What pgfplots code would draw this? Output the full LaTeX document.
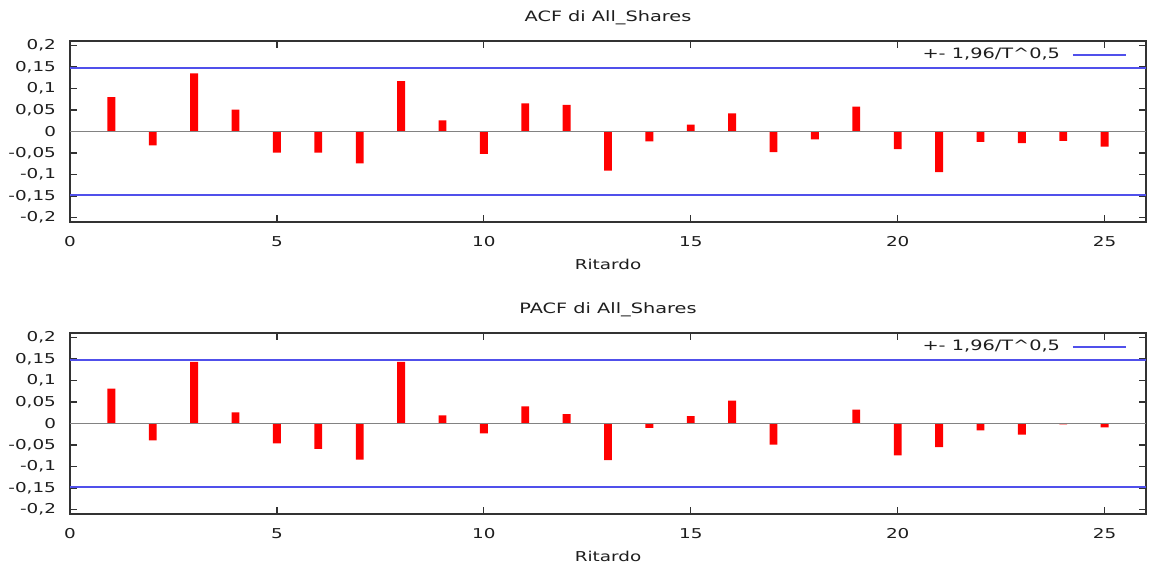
\documentclass[border=0pt]{standalone}
\usepackage{pgfplots}
\usepackage{pgfplotstable}
\pgfplotsset{compat=1.18}
\usepackage{fontspec}
\setmainfont{DejaVu Sans}[FakeStretch=1.35]
\newcommand\ff{\fontsize{6.8pt}{8pt}\selectfont}
\newcommand\tf{\fontsize{7.15pt}{8.5pt}\selectfont}
\definecolor{confblue}{RGB}{80,80,235}
\definecolor{framegray}{RGB}{50,50,50}
\definecolor{zerogray}{RGB}{130,130,130}
\definecolor{txt}{RGB}{30,30,30}

\pgfplotstableread{
lag acf pacf
1 0.080 0.081
2 -0.032 -0.039
3 0.135 0.143
4 0.051 0.026
5 -0.049 -0.046
6 -0.049 -0.059
7 -0.074 -0.084
8 0.117 0.143
9 0.026 0.019
10 -0.052 -0.023
11 0.065 0.040
12 0.062 0.022
13 -0.091 -0.085
14 -0.023 -0.010
15 0.016 0.017
16 0.042 0.053
17 -0.048 -0.049
18 -0.018 -0.001
19 0.058 0.032
20 -0.041 -0.074
21 -0.094 -0.055
22 -0.024 -0.016
23 -0.027 -0.026
24 -0.022 -0.002
25 -0.035 -0.009
}\corrdata

\pgfplotstableread{
x y
0 0
26 0
}\zeroline
\pgfplotstableread{
x y
0 0.147
26 0.147
}\upperband
\pgfplotstableread{
x y
0 -0.147
26 -0.147
}\lowerband

\pgfplotsset{
  corrax/.style={
    scale only axis, width=538pt, height=90.5pt,
    xmin=0, xmax=26, ymin=-0.21, ymax=0.21,
    xtick={0,5,10,15,20,25},
    ytick={-0.2,-0.15,-0.1,-0.05,0,0.05,0.1,0.15,0.2},
    tick align=inside, major tick length=3.5pt,
    axis line style={framegray, line width=1pt},
    every tick/.style={framegray, line width=0.6pt},
    tick label style={font=\ff, text=txt},
    yticklabel style={/pgf/number format/.cd, fixed, precision=2, use comma, assume math mode=true,
      /tikz/.cd, anchor=east, xshift=-3.5pt},
    xticklabel style={/pgf/number format/assume math mode=true, anchor=center, yshift=-10pt},
    title style={font=\tf, text=txt, at={(0.5,1)}, anchor=center, yshift=5.75pt},
    xlabel style={font=\ff, text=txt, at={(0.5,0)}, anchor=center, yshift=-21pt},
    xlabel={Ritardo},
    legend style={at={(1,1)}, anchor=east, xshift=-9.5pt, yshift=-7pt,
      draw=none, fill=none, inner sep=0pt, font=\tf, text=txt,
      nodes={inner sep=0pt}},
    legend plot pos=right,
    legend cell align=right,
    legend image code/.code={\draw[#1] (0pt,0pt) (6pt,0pt) -- (32.5pt,0pt);},
  }
}

\begin{document}
\begin{tikzpicture}
\path[use as bounding box] (0,0) rectangle (576pt,287pt);

\begin{axis}[corrax, at={(35pt,176pt)}, anchor=south west,
  title={ACF di All\_Shares}]
\addplot[ybar, bar width=0.19, bar shift=0pt, fill=red, draw=none, forget plot]
  table[x=lag, y=acf] {\corrdata};
\addplot[zerogray, line width=0.7pt, forget plot] table[x=x, y=y] {\zeroline};
\addplot[confblue, line width=0.8pt] table[x=x, y=y] {\upperband};
\addlegendentry{+- 1,96/T\textasciicircum 0,5}
\addplot[confblue, line width=0.8pt, forget plot] table[x=x, y=y] {\lowerband};
\end{axis}

\begin{axis}[corrax, at={(35pt,30pt)}, anchor=south west,
  title={PACF di All\_Shares}]
\addplot[ybar, bar width=0.19, bar shift=0pt, fill=red, draw=none, forget plot]
  table[x=lag, y=pacf] {\corrdata};
\addplot[zerogray, line width=0.7pt, forget plot] table[x=x, y=y] {\zeroline};
\addplot[confblue, line width=0.8pt] table[x=x, y=y] {\upperband};
\addlegendentry{+- 1,96/T\textasciicircum 0,5}
\addplot[confblue, line width=0.8pt, forget plot] table[x=x, y=y] {\lowerband};
\end{axis}
\end{tikzpicture}
\end{document}
